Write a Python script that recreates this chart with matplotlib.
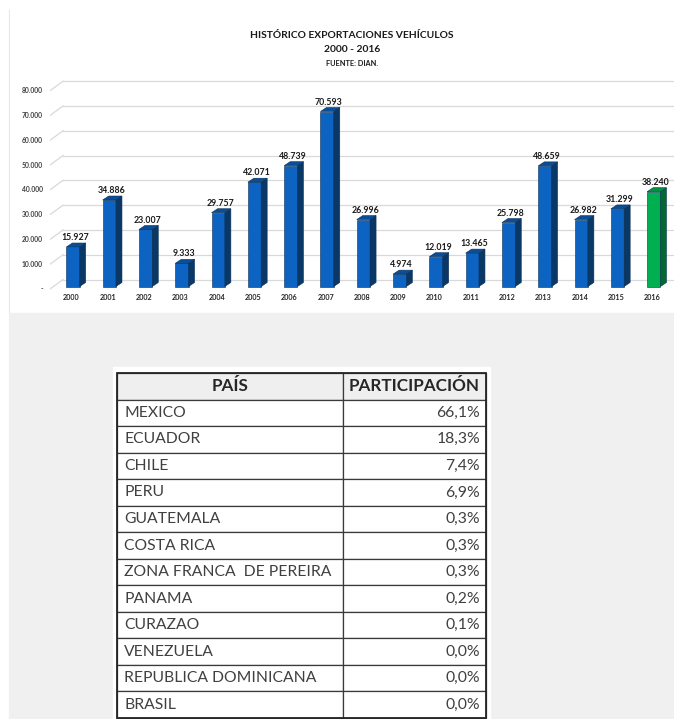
import matplotlib
matplotlib.use('Agg')
import matplotlib.pyplot as plt
from matplotlib.patches import Rectangle
from matplotlib.lines import Line2D

plt.rcParams['font.family'] = ['Lato', 'DejaVu Sans']

# ---------------- datos ----------------
years = [str(y) for y in range(2000, 2017)]
values = [15927, 34886, 23007, 9333, 29757, 42071, 48739, 70593, 26996,
          4974, 12019, 13465, 25798, 48659, 26982, 31299, 38240]
y_ticks = [0, 10000, 20000, 30000, 40000, 50000, 60000, 70000, 80000]

countries = ['MEXICO', 'ECUADOR', 'CHILE', 'PERU', 'GUATEMALA', 'COSTA RICA',
             'ZONA FRANCA  DE PEREIRA', 'PANAMA', 'CURAZAO', 'VENEZUELA',
             'REPUBLICA DOMINICANA', 'BRASIL']
shares = [66.1, 18.3, 7.4, 6.9, 0.3, 0.3, 0.3, 0.2, 0.1, 0.0, 0.0, 0.0]
# ---------------------------------------

W, H = 674, 719


def miles(v):
    return f"{v:,}".replace(',', '.')


fig = plt.figure(figsize=(W / 100, H / 100), dpi=100)
fig.patch.set_facecolor('white')

# fondo gris de la parte baja y borde del area del grafico
fig.patches.append(Rectangle((9 / W, 0), (W - 9) / W, (H - 313) / H,
                             transform=fig.transFigure, color='#f0f0f0', zorder=-3))
fig.lines.append(Line2D([9 / W, 9 / W], [1 - 313 / H, 1 - 10 / H],
                        transform=fig.transFigure, color='#e8e8e8', lw=0.8, zorder=-3))
fig.patches.append(Rectangle((113 / W, 0), 377 / W, (H - 367) / H,
                             transform=fig.transFigure, color='white', zorder=-2))

# ---------------- grafico ----------------
ax = fig.add_axes([50 / W, 1 - 300 / H, 624 / W, 225 / H])
ax.set_xlim(-0.634, 16.556)
ax.set_ylim(-5446, 85325)
ax.axis('off')

px_x = 1 / 36.3     # unidades x por pixel
px_y = 403.4        # unidades y por pixel

# lineas de cuadricula con perspectiva
x_front, x_back = -0.634, (63 - 73) * px_x
for t in y_ticks:
    ax.plot([x_front, x_back], [t - 2.5 * px_y, t + 7 * px_y], color='#d9d9d9', lw=0.9, zorder=1)
    ax.plot([x_back, 16.556], [t + 7 * px_y, t + 7 * px_y], color='#d9d9d9', lw=0.9, zorder=1)
    ax.text(x_front - 7 * px_x, t - 2.5 * px_y, '-' if t == 0 else miles(t),
            ha='right', va='center', fontsize=4.9, fontweight='bold', color='#404040')

bw = 13.3 * px_x
dx = 6 * px_x
dy = 4 * px_y
xs = list(range(len(values)))
front = ['#00b050' if y == '2016' else '#0d63c2' for y in years]
top = ['#00923f' if y == '2016' else '#0a4e98' for y in years]
side = ['#006b2d' if y == '2016' else '#0a3866' for y in years]

ax.bar(xs, values, width=bw, color=front, edgecolor='#0a2f55', lw=0.4, zorder=3)
for x, v, ct, cs in zip(xs, values, top, side):
    xl, xr = x - bw / 2, x + bw / 2
    ax.fill([xr, xr + dx, xr + dx, xr], [0, dy, v + dy, v], color=cs,
            ec='#0a2f55', lw=0.4, zorder=3)
    ax.fill([xl, xr, xr + dx, xl + dx], [v, v, v + dy, v + dy], color=ct,
            ec='#0a2f55', lw=0.4, zorder=3)
    ax.text(x + 0.05, v + 9.4 * px_y, miles(v), ha='center', va='center',
            fontsize=6.3, fontweight='bold', color='#1a1a1a', zorder=4)

for x, y in zip(xs, years):
    ax.text(x - 0.04, -11.2 * px_y, y, ha='center', va='center',
            fontsize=5.2, fontweight='bold', color='#262626')

fig.text(352 / W, 1 - 36 / H, 'HISTÓRICO EXPORTACIONES VEHÍCULOS', ha='center', va='center',
         fontsize=7.4, fontweight='bold', color='#1a1a1a')
fig.text(352 / W, 1 - 50 / H, '2000 - 2016', ha='center', va='center',
         fontsize=7.4, fontweight='bold', color='#1a1a1a')
fig.text(352 / W, 1 - 63 / H, 'FUENTE: DIAN.', ha='center', va='center',
         fontsize=5.3, fontweight='bold', color='#1a1a1a')

# ---------------- tabla ----------------
tax = fig.add_axes([117 / W, 1 - 718 / H, 369 / W, 345 / H])
tax.axis('off')
rows = [[c, f"{s:.1f}%".replace('.', ',')] for c, s in zip(countries, shares)]
tab = tax.table(cellText=rows, colLabels=['PAÍS', 'PARTICIPACIÓN'],
                colWidths=[226 / 369, 143 / 369], bbox=[0, 0, 1, 1])
tab.auto_set_font_size(False)
for (r, c), cell in tab.get_celld().items():
    cell.set_edgecolor('#3a3a3a')
    cell.set_linewidth(0.9)
    txt = cell.get_text()
    if r == 0:
        cell.set_facecolor('#efefef')
        txt.set_fontsize(12.3)
        txt.set_fontweight('bold')
        txt.set_color('#262626')
        cell._loc = 'center'
        txt.set_ha('center')
    else:
        cell.set_facecolor('white')
        txt.set_fontsize(11.3)
        txt.set_color('#404040')
        if c == 0:
            cell._loc = 'left'
            cell.PAD = 7 / 226
            txt.set_ha('left')
        else:
            cell._loc = 'right'
            cell.PAD = 6 / 143
            txt.set_ha('right')

tax.add_patch(Rectangle((0, 0), 1, 1, transform=tax.transAxes, fill=False,
                        ec='#262626', lw=1.3, zorder=5, clip_on=False))

fig.savefig('out.png', dpi=100)
